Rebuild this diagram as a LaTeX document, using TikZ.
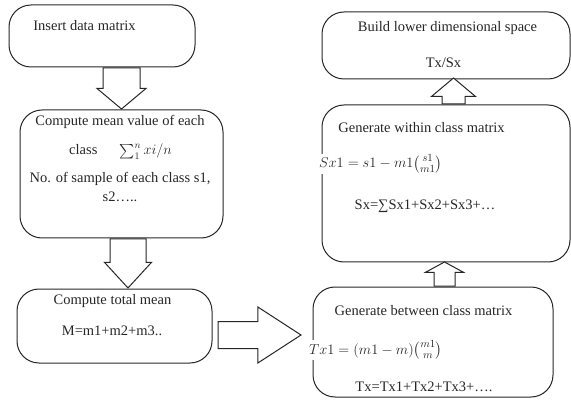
\documentclass[tikz,border=0pt]{standalone}
\usepackage{fontspec}
\setmainfont{Liberation Serif}
\usepackage{amsmath}
\usetikzlibrary{shapes.arrows, positioning, calc}

\begin{document}
\begin{tikzpicture}[x=1pt, y=-1pt,
  stepbox/.style={rectangle, draw=black!85, line width=1pt, rounded corners=22pt},
  lbl/.style={inner sep=1pt, text=black!85, font=\fontsize{14.5}{17}\selectfont, anchor=base},
  eqn/.style={lbl, fill=white, anchor=base west, font=\fontsize{15.5}{18}\selectfont},
  blk/.style={single arrow, draw=black!85, line width=1pt, fill=white, inner sep=0pt,
              single arrow head indent=0pt, anchor=tail}
]
\useasboundingbox (0,0) rectangle (571,401);

% left column
\node[stepbox, minimum width=186, minimum height=62] (b1) at (102,36) {};
\node[stepbox, minimum width=203, minimum height=128] (b2) at (121.5,174) {};
\node[stepbox, minimum width=195, minimum height=74] (b3) at (114.5,326) {};

% right column
\node[stepbox, minimum width=248, minimum height=67] (b4) at (446,45.5) {};
\node[stepbox, minimum width=248, minimum height=157] (b5) at (446,183.5) {};
\node[stepbox, minimum width=240, minimum height=110] (b6) at (433,342) {};

% texts
\node[lbl] (t1) at (84.5,31) {Insert data matrix};
\node[lbl] (m1) at (120,126) {Compute mean value of each};
\node[lbl] (m2) at (120.5,155) {class\hspace{22pt}$\sum_1^n xi/n$};
\node[lbl] (m3) at (120,183) {No. of sample of each class s1,};
\node[lbl] (m4) at (120,202) {s2…..};
\node[lbl] (c1) at (112.5,305) {Compute total mean};
\node[lbl] (c2) at (112,335) {M=m1+m2+m3..};
\node[lbl] (u1) at (447.5,32) {Build lower dimensional space};
\node[lbl] (u2) at (443.5,68) {Tx/Sx};
\node[lbl] (w1) at (421.5,133) {Generate within class matrix};
\node[eqn] (w2) at (318,168) {$Sx1 = s1 - m1\binom{s1}{m1}$};
\node[lbl] (w3) at (425,210) {Sx=∑Sx1+Sx2+Sx3+…};
\node[lbl] (g1) at (423.5,315) {Generate between class matrix};
\node[eqn] (g2) at (308,354) {$Tx1 = (m1 - m)\binom{m1}{m}$};
\node[lbl] (g3) at (424,391) {Tx=Tx1+Tx2+Tx3+….};

% block arrows
\node[blk, rotate=-90, minimum height=41, inner ysep=18, single arrow head extend=6, single arrow tip angle=100] (a1) at (b1.south -| b2.north) {};
\node[blk, rotate=-90, minimum height=49, inner ysep=17.5, single arrow head extend=5.5, single arrow tip angle=85] (a2) at ([xshift=6.5pt]b2.south) {};
\node[blk, minimum height=83, inner ysep=13, single arrow head extend=14.5, single arrow tip angle=66] (a3) at ([xshift=5pt,yshift=-9pt]b3.east) {};
\node[blk, rotate=90, minimum height=24, inner ysep=10, single arrow head extend=8.5, single arrow tip angle=123] (a4) at ([xshift=11.5pt]b6.north) {};
\node[blk, rotate=90, minimum height=26, inner ysep=11, single arrow head extend=10.5, single arrow tip angle=100] (a5) at ([xshift=7.5pt]b5.north) {};
\end{tikzpicture}
\end{document}
